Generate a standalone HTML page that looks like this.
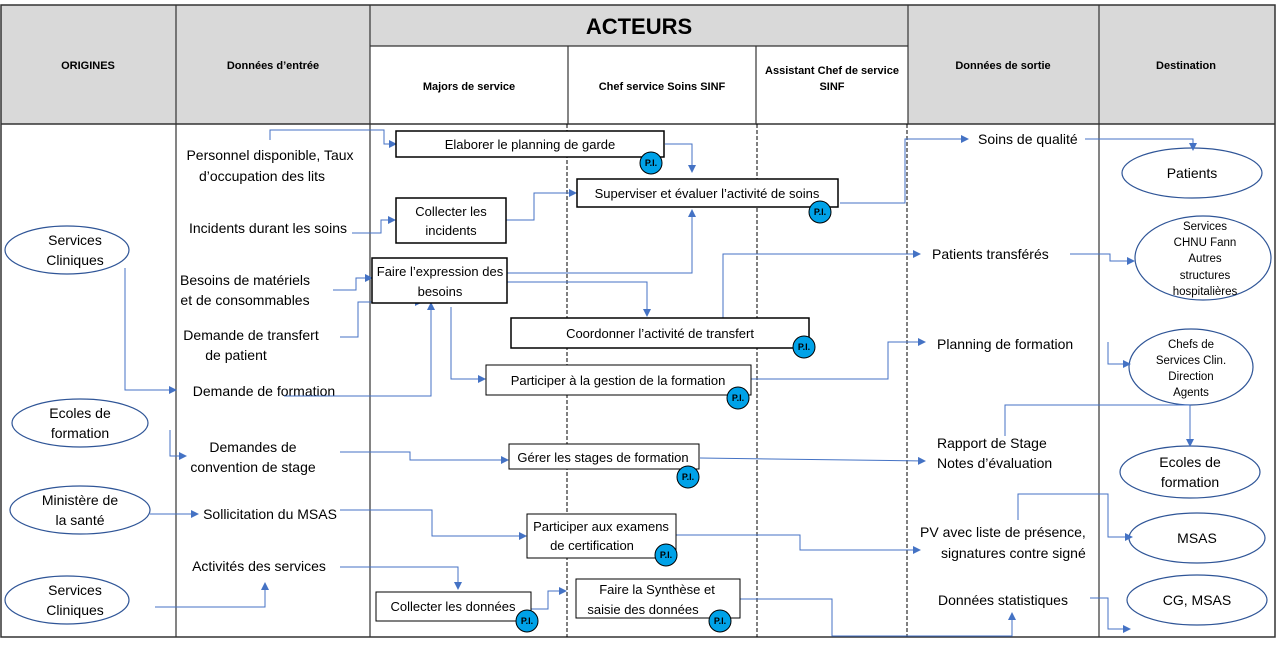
<!DOCTYPE html>
<html><head><meta charset="utf-8"><style>
body{margin:0;background:#fff}
text{font-family:"Liberation Sans",Arial,sans-serif;fill:#000}
.h{font-size:11px;font-weight:bold}
.t{font-size:14px}
.b{font-size:13px}
.c{stroke:#4472c4;stroke-width:1;fill:none;marker-end:url(#a)}
.bx{fill:#fff;stroke:#000;stroke-width:1.5}
.bx2{fill:#fff;stroke:#000;stroke-width:1}
.pi{fill:#00a2e8;stroke:#000;stroke-width:1}
.pt{font-size:9px;font-weight:bold}
.el{fill:#fff;stroke:#2f5597;stroke-width:1.2}
</style></head><body>
<svg width="1277" height="641" xmlns="http://www.w3.org/2000/svg">
<defs><marker id="a" markerWidth="8" markerHeight="8" refX="7" refY="4" orient="auto" markerUnits="userSpaceOnUse"><path d="M0,0 L8,4 L0,8z" fill="#4472c4"/></marker></defs>
<rect x="1" y="5" width="1274" height="119" fill="#d9d9d9"/>
<rect x="370" y="46" width="538" height="78" fill="#fff"/>
<rect x="1" y="5" width="1274" height="632" fill="none" stroke="#333" stroke-width="1.5"/>
<line x1="1" y1="124" x2="1275" y2="124" stroke="#333" stroke-width="1.5"/>
<g stroke="#333" stroke-width="1.2">
<line x1="176" y1="5" x2="176" y2="637"/><line x1="370" y1="5" x2="370" y2="637"/>
<line x1="908" y1="5" x2="908" y2="124"/><line x1="1099" y1="5" x2="1099" y2="637"/>
<line x1="370" y1="46" x2="908" y2="46"/>
<line x1="568" y1="46" x2="568" y2="124"/><line x1="756" y1="46" x2="756" y2="124"/>
</g>
<g stroke="#000" stroke-width="1" stroke-dasharray="4,2">
<line x1="567" y1="124" x2="567" y2="637"/><line x1="757" y1="124" x2="757" y2="637"/><line x1="907" y1="124" x2="907" y2="637"/>
</g>
<text x="88" y="69" class="h" text-anchor="middle">ORIGINES</text>
<text x="273" y="69" class="h" text-anchor="middle">Données d’entrée</text>
<text x="639" y="34" font-size="22" font-weight="bold" text-anchor="middle">ACTEURS</text>
<text x="469" y="90" class="h" text-anchor="middle">Majors de service</text>
<text x="662" y="90" class="h" text-anchor="middle">Chef service Soins SINF</text>
<text x="832" y="74" class="h" text-anchor="middle">Assistant Chef de service</text>
<text x="832" y="90" class="h" text-anchor="middle">SINF</text>
<text x="1003" y="69" class="h" text-anchor="middle">Données de sortie</text>
<text x="1186" y="69" class="h" text-anchor="middle">Destination</text>

<ellipse cx="67" cy="250" rx="62" ry="24" class="el"/><text x="75" y="245" class="t" text-anchor="middle">Services</text><text x="75" y="265" class="t" text-anchor="middle">Cliniques</text>
<ellipse cx="80" cy="423" rx="68" ry="24" class="el"/><text x="80" y="418" class="t" text-anchor="middle">Ecoles de</text><text x="80" y="438" class="t" text-anchor="middle">formation</text>
<ellipse cx="80" cy="510" rx="70" ry="24" class="el"/><text x="80" y="505" class="t" text-anchor="middle">Ministère de</text><text x="80" y="525" class="t" text-anchor="middle">la santé</text>
<ellipse cx="67" cy="600" rx="62" ry="24" class="el"/><text x="75" y="595" class="t" text-anchor="middle">Services</text><text x="75" y="615" class="t" text-anchor="middle">Cliniques</text>

<g class="t" text-anchor="middle">
<text x="270" y="160">Personnel disponible, Taux</text><text x="262" y="181">d’occupation des lits</text>
<text x="268" y="233">Incidents durant les soins</text>
<text x="245" y="285">Besoins de matériels</text><text x="245" y="305">et de consommables</text>
<text x="251" y="340">Demande de transfert</text><text x="236" y="360">de patient</text>
<text x="264" y="396">Demande de formation</text>
<text x="253" y="452">Demandes de</text><text x="253" y="472">convention de stage</text>
<text x="270" y="519">Sollicitation du MSAS</text>
<text x="259" y="571">Activités des services</text>
</g>

<g class="t">
<text x="978" y="144">Soins de qualité</text>
<text x="932" y="259">Patients transférés</text>
<text x="937" y="349">Planning de formation</text>
<text x="937" y="448">Rapport de Stage</text><text x="937" y="468">Notes d’évaluation</text>
<text x="920" y="537">PV avec liste de présence,</text><text x="941" y="558">signatures contre signé</text>
<text x="938" y="605">Données statistiques</text>
</g>

<ellipse cx="1192" cy="173" rx="70" ry="25" class="el"/><text x="1192" y="178" class="t" text-anchor="middle">Patients</text>
<ellipse cx="1203" cy="258" rx="68" ry="42" class="el"/>
<g font-size="11.5" text-anchor="middle"><text x="1205" y="230">Services</text><text x="1205" y="246">CHNU Fann</text><text x="1205" y="262">Autres</text><text x="1205" y="279">structures</text><text x="1205" y="295">hospitalières</text></g>
<ellipse cx="1191" cy="367" rx="62" ry="38" class="el"/>
<g font-size="11.5" text-anchor="middle"><text x="1191" y="348">Chefs de</text><text x="1191" y="364">Services Clin.</text><text x="1191" y="380">Direction</text><text x="1191" y="396">Agents</text></g>
<ellipse cx="1190" cy="472" rx="70" ry="26" class="el"/><text x="1190" y="467" class="t" text-anchor="middle">Ecoles de</text><text x="1190" y="487" class="t" text-anchor="middle">formation</text>
<ellipse cx="1197" cy="538" rx="68" ry="25" class="el"/><text x="1197" y="543" class="t" text-anchor="middle">MSAS</text>
<ellipse cx="1197" cy="600" rx="70" ry="25" class="el"/><text x="1197" y="605" class="t" text-anchor="middle">CG, MSAS</text>

<path class="c" d="M270,140 V130 H384 V144 H396"/>
<path class="c" d="M352,233 H381 V220 H395"/>
<path class="c" d="M333,290 H356 V278 H372"/>
<path class="c" d="M340,337 H358 V302 H422"/>
<path class="c" d="M284,396 H431 V303"/>
<path class="c" d="M125,268 V390 H176"/>
<path class="c" d="M170,430 V456 H186"/>
<path class="c" d="M150,514 H198"/>
<path class="c" d="M155,607 H265 V583"/>
<path class="c" d="M665,144 H692 V172"/>
<path class="c" d="M506,220 H534 V193 H576"/>
<path class="c" d="M507,273 H692 V210"/>
<path class="c" d="M507,282 H647 V316"/>
<path class="c" d="M451,307 V379 H485"/>
<path class="c" d="M723,321 V254 H920"/>
<path class="c" d="M840,203 H905 V139 H968"/>
<path class="c" d="M1085,139 H1193 V150"/>
<path class="c" d="M1070,254 H1110 V261 H1134"/>
<path class="c" d="M751,379 H888 V342 H925"/>
<path class="c" d="M1108,342 V364 H1130"/>
<path class="c" d="M1005,436 V405 H1190 V446"/>
<path class="c" d="M340,452 H410 V460 H508"/>
<path class="c" d="M700,458 L925,461"/>
<path class="c" d="M340,510 H432 V536 H526"/>
<path class="c" d="M675,535 H800 V550 H920"/>
<path class="c" d="M1018,520 V494 H1108 V537 H1132"/>
<path class="c" d="M340,567 H458 V589"/>
<path class="c" d="M531,609 H548 V591 H566"/>
<path class="c" d="M740,599 H832 V636 H1012 V613"/>
<path class="c" d="M1090,598 H1108 V629 H1130"/>

<rect x="396" y="131" width="268" height="26" class="bx"/><text x="530" y="149" class="b" text-anchor="middle">Elaborer le planning de garde</text>
<rect x="577" y="179" width="261" height="28" class="bx"/><text x="707" y="198" class="b" text-anchor="middle">Superviser et évaluer l’activité de soins</text>
<rect x="396" y="198" width="110" height="45" class="bx"/><text x="451" y="216" class="b" text-anchor="middle">Collecter les</text><text x="451" y="235" class="b" text-anchor="middle">incidents</text>
<rect x="372" y="258" width="135" height="45" class="bx"/><text x="440" y="276" class="b" text-anchor="middle">Faire l’expression des</text><text x="440" y="296" class="b" text-anchor="middle">besoins</text>
<rect x="511" y="318" width="298" height="30" class="bx"/><text x="660" y="338" class="b" text-anchor="middle">Coordonner l’activité de transfert</text>
<rect x="486" y="365" width="265" height="30" class="bx2"/><text x="618" y="385" class="b" text-anchor="middle">Participer à la gestion de la formation</text>
<rect x="509" y="444" width="190" height="25" class="bx2"/><text x="603" y="462" class="b" text-anchor="middle">Gérer les stages de formation</text>
<rect x="527" y="514" width="149" height="44" class="bx2"/><text x="601" y="531" class="b" text-anchor="middle">Participer aux examens</text><text x="592" y="550" class="b" text-anchor="middle">de certification</text>
<rect x="376" y="592" width="155" height="29" class="bx2"/><text x="453" y="611" class="b" text-anchor="middle">Collecter les données</text>
<rect x="576" y="579" width="164" height="39" class="bx2"/><text x="657" y="594" class="b" text-anchor="middle">Faire la Synthèse et</text><text x="643" y="614" class="b" text-anchor="middle">saisie des données</text>

<g>
<circle cx="651" cy="163" r="11" class="pi"/><text x="651" y="166" class="pt" text-anchor="middle">P.I.</text>
<circle cx="820" cy="212" r="11" class="pi"/><text x="820" y="215" class="pt" text-anchor="middle">P.I.</text>
<circle cx="804" cy="347" r="11" class="pi"/><text x="804" y="350" class="pt" text-anchor="middle">P.I.</text>
<circle cx="738" cy="398" r="11" class="pi"/><text x="738" y="401" class="pt" text-anchor="middle">P.I.</text>
<circle cx="688" cy="477" r="11" class="pi"/><text x="688" y="480" class="pt" text-anchor="middle">P.I.</text>
<circle cx="666" cy="555" r="11" class="pi"/><text x="666" y="558" class="pt" text-anchor="middle">P.I.</text>
<circle cx="527" cy="621" r="11" class="pi"/><text x="527" y="624" class="pt" text-anchor="middle">P.I.</text>
<circle cx="720" cy="621" r="11" class="pi"/><text x="720" y="624" class="pt" text-anchor="middle">P.I.</text>
</g>
</svg>
</body></html>
